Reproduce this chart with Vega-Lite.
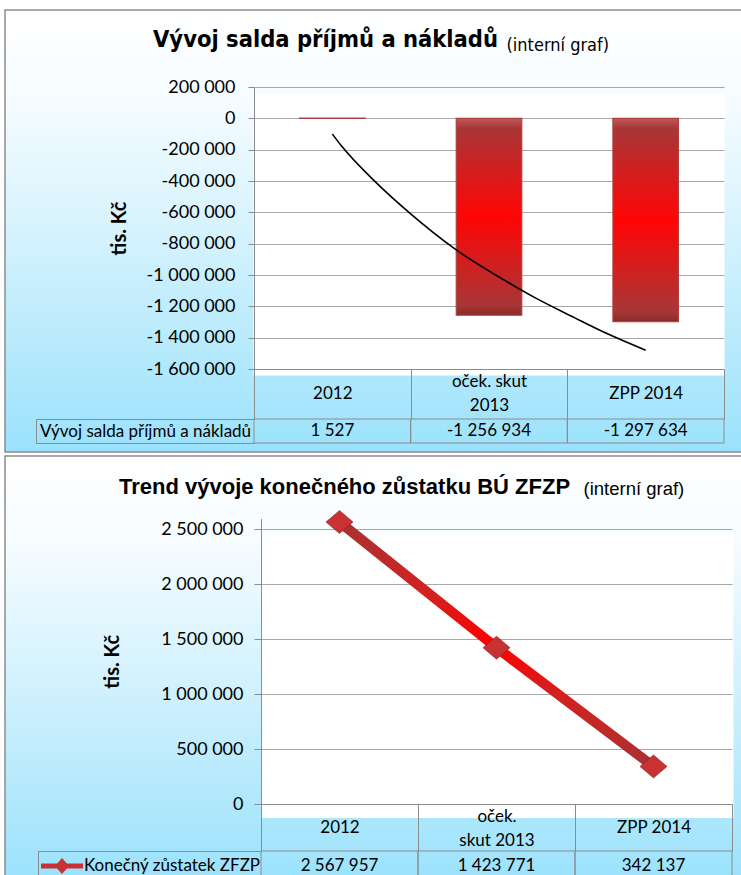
{
  "$schema": "https://vega.github.io/schema/vega-lite/v6.json",
  "padding": {"left": 4, "top": 0, "right": 0, "bottom": 0},
  "autosize": {"type": "pad"},
  "background": "white",
  "bounds": "flush",
  "spacing": 4,
  "config": {
    "font": "Lato",
    "locale": {"number": {"decimal": ",", "thousands": " ", "grouping": [3], "currency": ["", " Kč"], "minus": "-"}},
    "axis": {"domainColor": "#8c8c8c", "tickColor": "#8c8c8c", "gridColor": "#a8a8a8", "labelColor": "#000000", "labelFont": "Lato", "labelFontSize": 18, "titleFont": "Lato", "titleColor": "#000000", "labelOverlap": false, "labelFlush": false, "labelLimit": 400},
    "title": {"color": "#000000"}
  },
  "datasets": {
    "saldo": [
      {"c": "2012", "v": 1527, "s": "Vývoj salda příjmů a nákladů"},
      {"c": "oček. skut 2013", "v": -1256934, "s": "Vývoj salda příjmů a nákladů"},
      {"c": "ZPP 2014", "v": -1297634, "s": "Vývoj salda příjmů a nákladů"}
    ],
    "trend": [
      {"t": 1.0, "v": -100000},
      {"t": 1.055, "v": -172000},
      {"t": 1.27, "v": -401000},
      {"t": 1.5, "v": -610000},
      {"t": 1.78, "v": -832000},
      {"t": 2.12, "v": -1046000},
      {"t": 2.29, "v": -1143000},
      {"t": 2.545, "v": -1272000},
      {"t": 2.76, "v": -1377000},
      {"t": 3.0, "v": -1480000}
    ],
    "zustatek": [
      {"c": "2012", "v": 2567957, "s": "Konečný zůstatek ZFZP"},
      {"c": "oček. skut 2013", "v": 1423771, "s": "Konečný zůstatek ZFZP"},
      {"c": "ZPP 2014", "v": 342137, "s": "Konečný zůstatek ZFZP"}
    ]
  },
  "vconcat": [
    {
      "width": 737,
      "height": 442,
      "view": {
        "fill": {"gradient": "linear", "x1": 0, "y1": 0, "x2": 0, "y2": 1, "stops": [{"offset": 0, "color": "#ffffff"}, {"offset": 0.2, "color": "#f6fcff"}, {"offset": 0.55, "color": "#d0f1fd"}, {"offset": 1, "color": "#9be2fc"}]},
        "stroke": "#8c8c8c",
        "strokeWidth": 1.5
      },
      "title": {
        "text": "Vývoj salda příjmů a nákladů",
        "anchor": "start",
        "frame": "group",
        "dx": 148,
        "offset": -50,
        "font": "DejaVu Sans Condensed, sans-serif",
        "fontSize": 23.5,
        "fontWeight": "bold"
      },
      "resolve": {"scale": {"x": "independent", "y": "independent"}},
      "layer": [
        {
          "data": {"name": "saldo"},
          "mark": {
            "type": "bar",
            "width": {"band": 0.418},
            "fill": {"gradient": "linear", "x1": 0, "y1": 0, "x2": 0, "y2": 1, "stops": [{"offset": 0, "color": "#c05a5a"}, {"offset": 0.05, "color": "#a83636"}, {"offset": 0.5, "color": "#ff0505"}, {"offset": 0.95, "color": "#a83636"}, {"offset": 1, "color": "#8a2a2a"}]},
            "stroke": "#b04040",
            "strokeWidth": 1.2
          },
          "encoding": {
            "x": {
              "field": "c", "type": "nominal",
              "scale": {"domain": ["2012", "oček. skut 2013", "ZPP 2014"], "range": [249, 719], "paddingInner": 0, "paddingOuter": 0},
              "axis": {"orient": "bottom", "grid": true, "gridColor": "#ffffff", "gridWidth": 158, "gridOpacity": 1, "labels": false, "ticks": false, "domain": false, "title": null}
            },
            "y": {
              "field": "v", "type": "quantitative",
              "scale": {"domain": [-1600000, 200000], "range": [359, 77], "nice": false, "zero": false},
              "axis": {"orient": "left", "offset": -249, "values": [200000, 0, -200000, -400000, -600000, -800000, -1000000, -1200000, -1400000, -1600000], "format": ",d", "grid": true, "tickSize": 6, "labelPadding": 13, "title": "tis. Kč", "titleFontSize": 20, "titleFontWeight": "bold", "titlePadding": 17}
            }
          }
        },
        {
          "data": {"name": "trend"},
          "mark": {"type": "line", "color": "#000000", "strokeWidth": 1.6, "interpolate": "monotone"},
          "encoding": {
            "x": {
              "field": "t", "type": "quantitative",
              "scale": {"domain": [0.5, 3.5], "range": [249, 719], "nice": false, "zero": false},
              "axis": {"orient": "top", "grid": false, "labels": false, "ticks": false, "domain": false, "title": "(interní graf)", "titleX": 501, "titleY": 40, "titleAlign": "left", "titleBaseline": "alphabetic", "titleFont": "DejaVu Sans Condensed, sans-serif", "titleFontSize": 18, "titleFontWeight": "normal"}
            },
            "y": {"field": "v", "type": "quantitative", "scale": {"domain": [-1600000, 200000], "range": [359, 77], "nice": false, "zero": false}, "axis": null}
          }
        },
        {
          "data": {"name": "saldo"},
          "mark": {"type": "rect", "fillOpacity": 0, "stroke": "#8c8c8c", "strokeWidth": 1},
          "encoding": {
            "x": {
              "field": "c", "type": "nominal",
              "scale": {"domain": ["2012", "oček. skut 2013", "ZPP 2014"], "range": [249, 719], "paddingInner": 0, "paddingOuter": 0},
              "axis": {"orient": "bottom", "offset": -83, "tickBand": "extent", "tickSize": 50, "labelPadding": -26, "labelBaseline": "middle", "labelAngle": 0, "labelFontSize": 17, "labelExpr": "datum.value == 'oček. skut 2013' ? '' : datum.value", "title": null, "grid": false}
            },
            "y": {
              "field": "s", "type": "nominal",
              "scale": {"range": [409, 433], "paddingInner": 0, "paddingOuter": 0},
              "axis": {"orient": "left", "offset": -31, "tickBand": "extent", "tickSize": -218, "labelPadding": 109, "labelAlign": "center", "labelBaseline": "middle", "labelFontSize": 17, "title": null, "grid": false}
            }
          }
        },
        {
          "data": {"name": "saldo"},
          "mark": {"type": "text", "fontSize": 17, "color": "#000000"},
          "encoding": {
            "x": {
              "field": "c", "type": "nominal",
              "scale": {"domain": ["2012", "oček. skut 2013", "ZPP 2014"], "range": [249, 719], "paddingInner": 0, "paddingOuter": 0},
              "axis": {"orient": "bottom", "offset": -83, "ticks": false, "tickSize": 0, "domain": false, "grid": false, "labelPadding": 4.6, "labelBaseline": "top", "labelLineHeight": 24, "labelFontSize": 17, "labelAngle": 0, "labelExpr": "datum.value == 'oček. skut 2013' ? ['oček. skut', '2013'] : ''", "title": null}
            },
            "y": {"field": "s", "type": "nominal", "scale": {"range": [409, 433], "paddingInner": 0, "paddingOuter": 0}, "axis": null},
            "text": {"field": "v", "type": "quantitative", "format": ",d"}
          }
        }
      ]
    },
    {
      "width": 737,
      "height": 424,
      "view": {
        "fill": {"gradient": "linear", "x1": 0, "y1": 0, "x2": 0, "y2": 1, "stops": [{"offset": 0, "color": "#ffffff"}, {"offset": 0.2, "color": "#f6fcff"}, {"offset": 0.55, "color": "#d0f1fd"}, {"offset": 1, "color": "#9be2fc"}]},
        "stroke": "#8c8c8c",
        "strokeWidth": 1.5
      },
      "title": {
        "text": "Trend vývoje konečného zůstatku BÚ ZFZP",
        "anchor": "start",
        "frame": "group",
        "dx": 114,
        "offset": -43,
        "font": "Liberation Sans, sans-serif",
        "fontSize": 22,
        "fontWeight": "bold"
      },
      "resolve": {"scale": {"x": "independent", "y": "independent"}},
      "layer": [
        {
          "data": {"name": "zustatek"},
          "mark": {
            "type": "line",
            "stroke": {"gradient": "linear", "x1": 0, "y1": 0, "x2": 0, "y2": 1, "stops": [{"offset": 0, "color": "#a83232"}, {"offset": 0.3, "color": "#d42020"}, {"offset": 0.5, "color": "#ff0000"}, {"offset": 0.7, "color": "#d42020"}, {"offset": 1, "color": "#a83232"}]},
            "strokeWidth": 10,
            "strokeCap": "butt"
          },
          "encoding": {
            "x": {
              "field": "c", "type": "nominal",
              "scale": {"domain": ["2012", "oček. skut 2013", "ZPP 2014"], "range": [256, 727], "paddingInner": 0, "paddingOuter": 0},
              "axis": {"orient": "bottom", "grid": true, "gridColor": "#ffffff", "gridWidth": 158, "gridOpacity": 1, "labels": false, "ticks": false, "domain": false, "title": null}
            },
            "y": {
              "field": "v", "type": "quantitative",
              "scale": {"domain": [0, 2600000], "range": [348, 62.5], "nice": false, "zero": false},
              "axis": {"orient": "left", "offset": -256, "values": [0, 500000, 1000000, 1500000, 2000000, 2500000], "format": ",d", "grid": true, "tickSize": 7, "labelPadding": 11, "title": "tis. Kč", "titleFontSize": 20, "titleFontWeight": "bold", "titlePadding": 38}
            }
          }
        },
        {
          "data": {"name": "zustatek"},
          "mark": {"type": "point", "shape": "M-1,0L0,-0.85L1,0L0,0.85Z", "size": 729, "filled": true, "opacity": 1, "stroke": "#8a2020", "strokeWidth": 0.6},
          "encoding": {
            "x": {
              "field": "c", "type": "nominal",
              "scale": {"domain": ["2012", "oček. skut 2013", "ZPP 2014"], "range": [256, 727], "paddingInner": 0, "paddingOuter": 0},
              "axis": {"orient": "top", "grid": false, "labels": false, "ticks": false, "domain": false, "title": "(interní graf)", "titleX": 578, "titleY": 38, "titleAlign": "left", "titleBaseline": "alphabetic", "titleFont": "Liberation Sans, sans-serif", "titleFontSize": 18.5, "titleFontWeight": "normal"}
            },
            "y": {"field": "v", "type": "quantitative", "scale": {"domain": [0, 2600000], "range": [348, 62.5], "nice": false, "zero": false}, "axis": null},
            "fill": {
              "datum": "Konečný zůstatek ZFZP",
              "scale": {"range": ["#c83232"]},
              "legend": {"orient": "none", "legendX": 36, "legendY": 835, "title": null, "symbolType": "M-1,-0.12L1,-0.12L1,0.12L-1,0.12Z M0,-0.38L0.34,0L0,0.38L-0.34,0Z", "symbolSize": 1764, "symbolStrokeWidth": 0, "labelFontSize": 17, "labelFont": "Lato", "labelColor": "#000000", "labelOffset": 1, "labelLimit": 400, "padding": 0}
            }
          }
        },
        {
          "data": {"name": "zustatek"},
          "mark": {"type": "rect", "fillOpacity": 0, "stroke": "#8c8c8c", "strokeWidth": 1},
          "encoding": {
            "x": {
              "field": "c", "type": "nominal",
              "scale": {"domain": ["2012", "oček. skut 2013", "ZPP 2014"], "range": [256, 727], "paddingInner": 0, "paddingOuter": 0},
              "axis": {"orient": "bottom", "offset": -76, "tickBand": "extent", "tickSize": 47, "labelPadding": -23.5, "labelBaseline": "middle", "labelAngle": 0, "labelFontSize": 17, "labelExpr": "datum.value == 'oček. skut 2013' ? '' : datum.value", "title": null, "grid": false}
            },
            "y": {
              "field": "s", "type": "nominal",
              "scale": {"range": [395, 425], "paddingInner": 0, "paddingOuter": 0},
              "axis": {"orient": "left", "offset": -33, "tickBand": "extent", "tickSize": -223, "labels": false, "title": null, "grid": false}
            }
          }
        },
        {
          "data": {"name": "zustatek"},
          "mark": {"type": "text", "fontSize": 17, "color": "#000000"},
          "encoding": {
            "x": {
              "field": "c", "type": "nominal",
              "scale": {"domain": ["2012", "oček. skut 2013", "ZPP 2014"], "range": [256, 727], "paddingInner": 0, "paddingOuter": 0},
              "axis": {"orient": "bottom", "offset": -76, "ticks": false, "tickSize": 0, "domain": false, "grid": false, "labelPadding": 4.6, "labelBaseline": "top", "labelLineHeight": 24, "labelFontSize": 17, "labelAngle": 0, "labelExpr": "datum.value == 'oček. skut 2013' ? ['oček.', 'skut 2013'] : ''", "title": null}
            },
            "y": {"field": "s", "type": "nominal", "scale": {"range": [395, 425], "paddingInner": 0, "paddingOuter": 0}, "axis": null},
            "text": {"field": "v", "type": "quantitative", "format": ",d"}
          }
        }
      ]
    }
  ]
}
